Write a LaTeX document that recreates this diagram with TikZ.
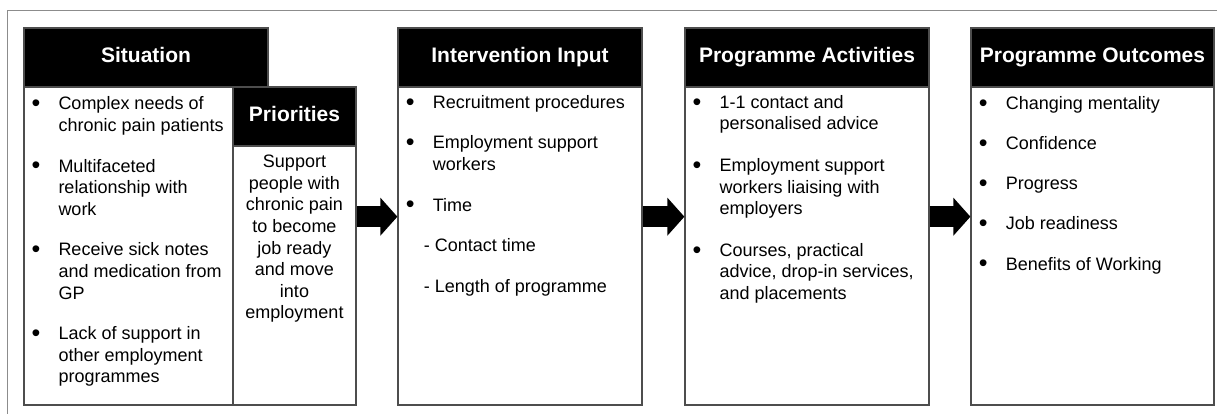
\documentclass[tikz,border=0pt]{standalone}
\usepackage{fontspec}
\setmainfont{Liberation Sans}
\usetikzlibrary{arrows.meta}
\definecolor{boxgray}{HTML}{4D4D4D}
\definecolor{framegray}{HTML}{8C8C8C}
\newcommand{\dotmark}{\raisebox{-1.8pt}{\fontsize{25}{25}\selectfont\textbullet}}
\begin{document}
\begin{tikzpicture}[x=1pt, y=-1pt,
    body/.style = {draw=boxgray, line width=1.2pt, inner sep=0pt},
    head/.style = {body, fill=black, text=white, text height=15pt, text depth=4pt,
      font=\fontsize{21}{25}\selectfont\bfseries},
    list/.style = {anchor=base west, inner sep=0pt, font=\fontsize{18}{21.6}\selectfont},
    flow/.style = {line width=21pt, -{Triangle[length=17pt, width=37pt]}}
  ]
  \useasboundingbox (0, 0) rectangle (1217, 414);

  % frame
  % -----
  \draw [framegray, line width=1pt] (7, 414) -- (7, 11) -- (1217, 11);

  % boxes
  % -----
  \node [body, minimum width=209pt, minimum height=318pt] (sitbody) at (128.5, 246) {};
  \node [body, minimum width=123pt, minimum height=259pt] (priobody) at (294.5, 275.5) {};
  \node [body, minimum width=244pt, minimum height=318pt] (inbody) at (520, 246) {};
  \node [body, minimum width=244pt, minimum height=318pt] (actbody) at (807, 246) {};
  \node [body, minimum width=243pt, minimum height=318pt] (outbody) at (1092.5, 246) {};

  % headers
  % -------
  \node [head, minimum width=244pt, minimum height=59pt] (sithead) at (146, 57.5) {Situation};
  \node [head, minimum width=123pt, minimum height=59pt] (priohead) at (294.5, 116.5) {Priorities};
  \node [head, minimum width=244pt, minimum height=59pt] (inhead) at (520, 57.5) {Intervention Input};
  \node [head, minimum width=244pt, minimum height=59pt] (acthead) at (807, 57.5) {Programme Activities};
  \node [head, minimum width=243pt, minimum height=59pt] (outhead) at (1092.5, 57.5) {Programme Outcomes};

  % texts
  % -----
  \node [list] (sitlist) at (31.3, 110) {%
    \begin{tabular}[t]{@{}p{27pt}@{}l@{}}
      \dotmark & Complex needs of \\
               & chronic pain patients \\[19pt]
      \dotmark & Multifaceted \\
               & relationship with \\
               & work \\[19pt]
      \dotmark & Receive sick notes \\
               & and medication from \\
               & GP \\[19pt]
      \dotmark & Lack of support in \\
               & other employment \\
               & programmes
    \end{tabular}};
  \node [list, anchor=base] (priolist) at (294.5, 167.7) {%
    \begin{tabular}[t]{@{}c@{}}
      Support \\ people with \\ chronic pain \\ to become \\
      job ready \\ and move \\ into \\ employment
    \end{tabular}};
  \node [list] (inlist) at (405.7, 108.3) {%
    \begin{tabular}[t]{@{}p{27pt}@{}l@{}}
      \dotmark & Recruitment procedures \\[19pt]
      \dotmark & Employment support \\
               & workers \\[19pt]
      \dotmark & Time \\[19pt]
      \multicolumn{2}{@{}l@{}}{\hspace{18pt}- Contact time} \\[19pt]
      \multicolumn{2}{@{}l@{}}{\hspace{18pt}- Length of programme}
    \end{tabular}};
  \node [list] (actlist) at (692.3, 108.3) {%
    \begin{tabular}[t]{@{}p{27pt}@{}l@{}}
      \dotmark & 1-1 contact and \\
               & personalised advice \\[20pt]
      \dotmark & Employment support \\
               & workers liaising with \\
               & employers \\[20pt]
      \dotmark & Courses, practical \\
               & advice, drop-in services, \\
               & and placements
    \end{tabular}};
  \node [list] (outlist) at (978.7, 109.3) {%
    \begin{tabular}[t]{@{}p{27pt}@{}l@{}}
      \dotmark & Changing mentality \\[18.6pt]
      \dotmark & Confidence \\[18.6pt]
      \dotmark & Progress \\[18.6pt]
      \dotmark & Job readiness \\[18.6pt]
      \dotmark & Benefits of Working
    \end{tabular}};

  % arrows
  % ------
  \coordinate (level) at (0, 216.7);
  \draw [flow] (priobody.east |- level) -- (inbody.west |- level);
  \draw [flow] (inbody.east |- level) -- (actbody.west |- level);
  \draw [flow] (actbody.east |- level) -- (outbody.west |- level);
\end{tikzpicture}
\end{document}
